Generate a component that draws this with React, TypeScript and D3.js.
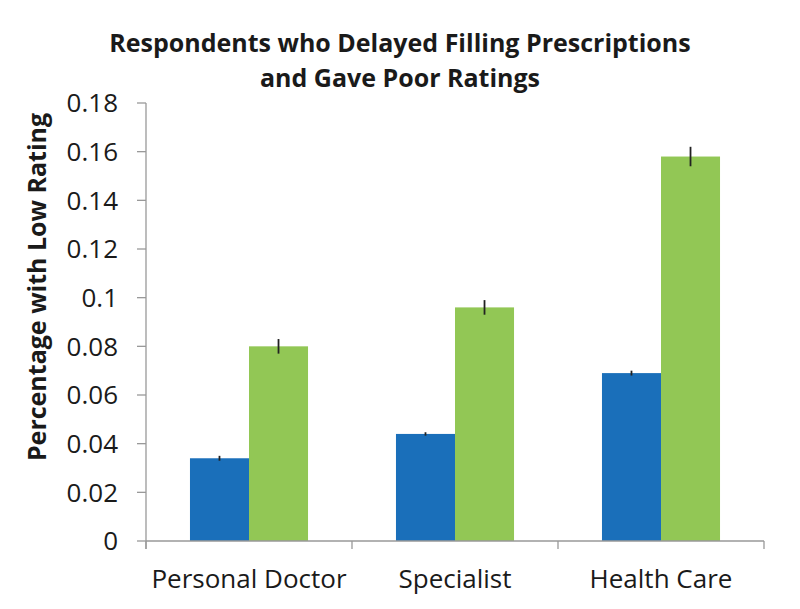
import React from "react";
import * as d3 from "d3";

const categories = ["Personal Doctor", "Specialist", "Health Care"];
const seriesA = [0.034, 0.044, 0.069];
const seriesB = [0.080, 0.096, 0.158];
const errA = [0.001, 0.0007, 0.001];
const errB = [0.003, 0.003, 0.004];
const yTicks = [0, 0.02, 0.04, 0.06, 0.08, 0.1, 0.12, 0.14, 0.16, 0.18];
const tickLabels = ["0", "0.02", "0.04", "0.06", "0.08", "0.1", "0.12", "0.14", "0.16", "0.18"];
const colors = ["#1a6fba", "#92c755"];

const W = 800, H = 609;
const left = 146, right = 764, top = 103, bottom = 541;
const font = "'Open Sans', sans-serif";

export default function App() {
  const y = d3.scaleLinear().domain([0, 0.18]).range([bottom, top]);
  const x = d3.scaleBand().domain(categories).range([left, right]).paddingInner(0).paddingOuter(0);
  const inner = d3.scaleBand().domain(["a", "b"]).range([0, x.bandwidth()]).paddingOuter(0.745).paddingInner(0);
  const series = [
    { key: "a", vals: seriesA, errs: errA, color: colors[0] },
    { key: "b", vals: seriesB, errs: errB, color: colors[1] },
  ];
  const boundaries = [left, ...categories.map((c) => (x(c) as number) + x.bandwidth())];
  return (
    <svg width={W} height={H} style={{ display: "block", position: "absolute", left: 0, top: 0 }}>
      <rect width={W} height={H} fill="#fff" />
      <text x={400} y={52} textAnchor="middle" fontFamily={font} fontWeight="bold" fontSize={25} fill="#1a1a1a">
        Respondents who Delayed Filling Prescriptions
      </text>
      <text x={400} y={87} textAnchor="middle" fontFamily={font} fontWeight="bold" fontSize={25} fill="#1a1a1a">
        and Gave Poor Ratings
      </text>
      {series.map((s) =>
        categories.map((c, i) => {
          const bx = (x(c) as number) + (inner(s.key) as number);
          return (
            <rect key={s.key + c} x={bx} y={y(s.vals[i])} width={inner.bandwidth()} height={bottom - y(s.vals[i])} fill={s.color} />
          );
        })
      )}
      {series.map((s) =>
        categories.map((c, i) => {
          const cx = (x(c) as number) + (inner(s.key) as number) + inner.bandwidth() / 2;
          return (
            <line key={"e" + s.key + c} x1={cx} x2={cx} y1={y(s.vals[i] + s.errs[i])} y2={y(s.vals[i] - s.errs[i])} stroke="#222" strokeWidth={1.8} />
          );
        })
      )}
      <line x1={left} x2={left} y1={top} y2={bottom + 8} stroke="#999" strokeWidth={1.3} />
      {yTicks.map((t, i) => (
        <g key={t}>
          <line x1={left - 9} x2={left} y1={y(t)} y2={y(t)} stroke="#999" strokeWidth={1.3} />
          <text x={118} y={y(t)} dy="0.36em" textAnchor="end" fontFamily={font} fontSize={26} fill="#1a1a1a">
            {tickLabels[i]}
          </text>
        </g>
      ))}
      <line x1={left} x2={right} y1={bottom} y2={bottom} stroke="#999" strokeWidth={1.3} />
      {boundaries.map((b, i) => (
        <line key={"b" + i} x1={b} x2={b} y1={bottom} y2={bottom + 8} stroke="#999" strokeWidth={1.3} />
      ))}
      {categories.map((c) => (
        <text key={"l" + c} x={(x(c) as number) + x.bandwidth() / 2} y={588} textAnchor="middle" fontFamily={font} fontSize={26} fill="#1a1a1a">
          {c}
        </text>
      ))}
      <text transform={`translate(46, 287) rotate(-90)`} textAnchor="middle" fontFamily={font} fontWeight="bold" fontSize={25} fill="#1a1a1a">
        Percentage with Low Rating
      </text>
    </svg>
  );
}
